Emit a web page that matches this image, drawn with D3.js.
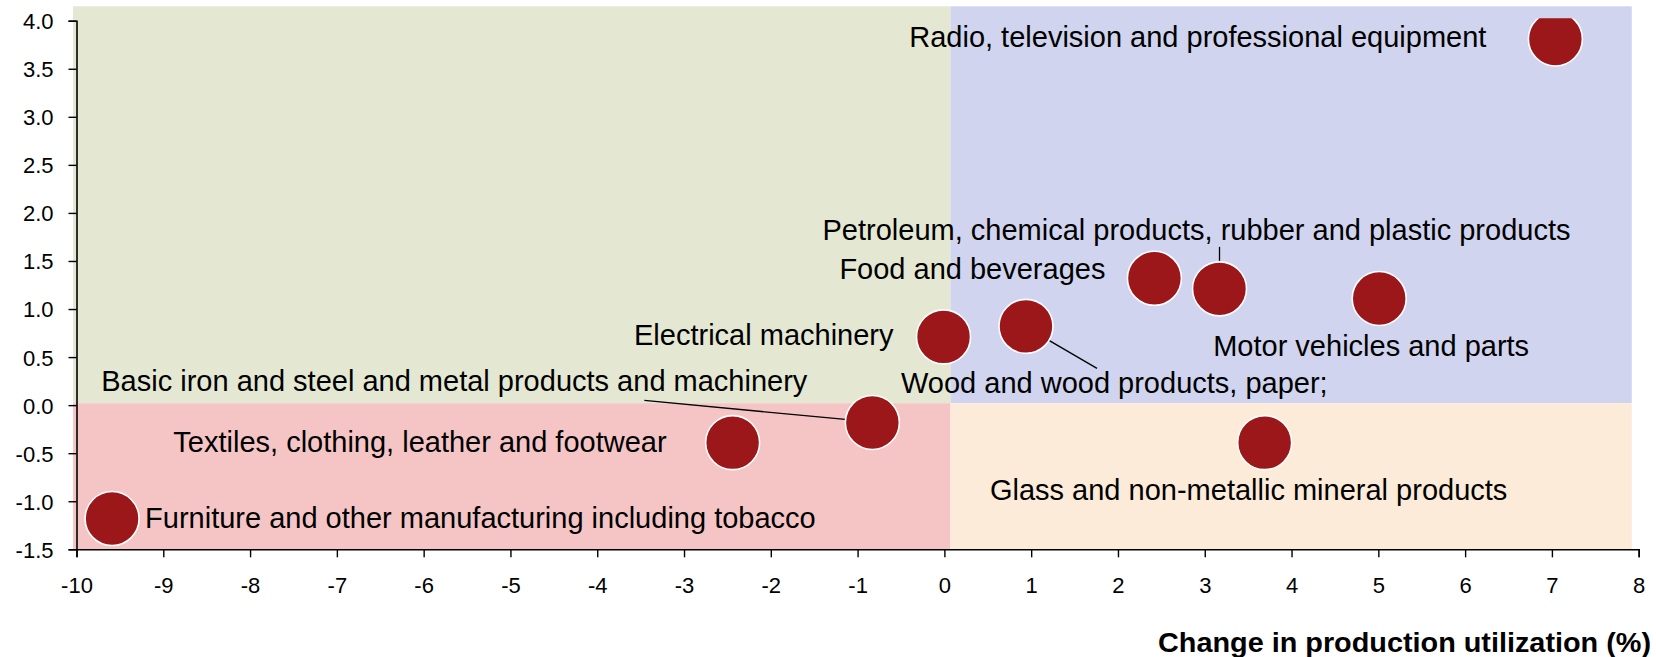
<!DOCTYPE html>
<html>
<head>
<meta charset="utf-8">
<script src="https://cdn.jsdelivr.net/npm/d3@7"></script>
<style>
  body { margin: 0; background: #fff; }
  svg { display: block; font-family: "Liberation Sans", Arial, sans-serif; }
</style>
</head>
<body>
<div id="chart"></div>
<script>
// sectors and their (x = change in utilization %, y = second measure)
const sectors = [
  'Radio, television and professional equipment',
  'Petroleum, chemical products, rubber and plastic products',
  'Food and beverages',
  'Motor vehicles and parts',
  'Wood and wood products, paper;',
  'Electrical machinery',
  'Basic iron and steel and metal products and machinery',
  'Textiles, clothing, leather and footwear',
  'Glass and non-metallic mineral products',
  'Furniture and other manufacturing including tobacco'
];
const xVals = [7.04, 3.17, 2.42, 5.01, 0.94, -0.01, -0.83, -2.44, 3.69, -9.59];
const yVals = [3.81, 1.21, 1.32, 1.11, 0.82, 0.71, -0.18, -0.39, -0.39, -1.18];

const xTicks = d3.range(-10, 9, 1);
const yTicks = d3.range(-1.5, 4.01, 0.5);

// shaded quadrants, in data units
const quadX = [[-10.04, 0.07], [0.07, 7.92], [-10.04, 0.07], [0.07, 7.92]];
const quadY = [[0.02, 4.15], [0.02, 4.15], [-1.5, 0.02], [-1.5, 0.02]];
const quadColors = ['#e4e8d3', '#d0d4ee', '#f5c5c6', '#fdebd9'];

// label placement (pixel offsets from the bubble centre, to the baseline)
const labelLayout = [
  {dx: -69, dy: 8, anchor: 'end'},
  {dx: -23, dy: -49, anchor: 'middle'},
  {dx: -49, dy: 1, anchor: 'end'},
  {dx: -166, dy: 58, anchor: 'start'},
  {dx: -125, dy: 67, anchor: 'start'},
  {dx: -50, dy: 8, anchor: 'end'},
  {dx: -65, dy: -31, anchor: 'end'},
  {dx: -66, dy: 9, anchor: 'end'},
  {dx: -16, dy: 57, anchor: 'middle'},
  {dx: 33, dy: 9, anchor: 'start'}
];
// leader lines: [x1,y1,x2,y2] offsets from bubble centre
const leaders = {
  1: [0, -28, 0, -42],
  4: [23, 14, 71, 42],
  6: [-27, -3, -228, -22]
};

const width = 1656, height = 657;
const margin = {top: 20.7, right: 17.3, bottom: 107.7, left: 76.5};
const pointR = 28;

const data = sectors.map((name, i) => ({name, x: xVals[i], y: yVals[i], i}));

const svg = d3.select('#chart').append('svg')
  .attr('width', width)
  .attr('height', height);

const x = d3.scaleLinear()
  .domain([-10, 8])
  .range([margin.left, width - margin.right]);

const y = d3.scaleLinear()
  .domain([-1.5, 4])
  .range([height - margin.bottom, margin.top]);

// background quadrants
svg.append('g')
  .selectAll('rect')
  .data(quadColors)
  .join('rect')
  .attr('x', (d, i) => x(quadX[i][0]))
  .attr('width', (d, i) => x(quadX[i][1]) - x(quadX[i][0]))
  .attr('y', (d, i) => y(quadY[i][1]))
  .attr('height', (d, i) => y(quadY[i][0]) - y(quadY[i][1]))
  .attr('fill', d => d);

// axes (plain hyphen for negatives, like the original)
const yAxis = svg.append('g')
  .attr('transform', `translate(${x(-10)},0)`)
  .call(d3.axisLeft(y).tickValues(yTicks).tickFormat(d => d.toFixed(1)).tickSizeOuter(0).tickSize(8).tickPadding(15));

const xAxis = svg.append('g')
  .attr('transform', `translate(0,${y(-1.5)})`)
  .call(d3.axisBottom(x).tickValues(xTicks).tickFormat(d => String(d)).tickSizeOuter(0).tickSize(8));

[yAxis, xAxis].forEach(g => {
  g.select('.domain').attr('stroke', '#000').attr('stroke-width', 1.6);
  g.selectAll('.tick line').attr('stroke', '#000').attr('stroke-width', 1.4);
  g.selectAll('.tick text')
    .attr('fill', '#000')
    .style('font-size', '22px')
    .style('font-family', '"Liberation Sans", Arial, sans-serif');
});
xAxis.selectAll('.tick text').attr('y', 44).attr('dy', 0);
yAxis.selectAll('.tick text').attr('dy', '0.36em');

// axis title
svg.append('text')
  .attr('x', 1651)
  .attr('y', 652)
  .attr('text-anchor', 'end')
  .attr('textLength', 493)
  .attr('lengthAdjust', 'spacingAndGlyphs')
  .style('font-size', '27px')
  .style('font-weight', 'bold')
  .text('Change in production utilization (%)');

// leader lines
svg.append('g')
  .selectAll('line')
  .data(data.filter(d => leaders[d.i]))
  .join('line')
  .attr('x1', d => x(d.x) + leaders[d.i][0])
  .attr('y1', d => y(d.y) + leaders[d.i][1])
  .attr('x2', d => x(d.x) + leaders[d.i][2])
  .attr('y2', d => y(d.y) + leaders[d.i][3])
  .attr('stroke', '#000')
  .attr('stroke-width', 1.3);

// bubbles, clipped just above the plot top
svg.append('clipPath').attr('id', 'plotclip')
  .append('rect')
  .attr('x', 0).attr('y', y(4) - 2.4)
  .attr('width', width).attr('height', height);

svg.append('g')
  .attr('clip-path', 'url(#plotclip)')
  .selectAll('circle')
  .data(data)
  .join('circle')
  .attr('cx', d => x(d.x))
  .attr('cy', d => y(d.y))
  .attr('r', pointR - 1)
  .attr('fill', '#9b1719')
  .attr('stroke', '#fff')
  .attr('stroke-width', 1.6);

// labels
svg.append('g')
  .selectAll('text')
  .data(data)
  .join('text')
  .attr('x', d => x(d.x) + labelLayout[d.i].dx)
  .attr('y', d => y(d.y) + labelLayout[d.i].dy)
  .attr('text-anchor', d => labelLayout[d.i].anchor)
  .style('font-size', '29px')
  .attr('fill', '#000')
  .text(d => d.name);
</script>
</body>
</html>
